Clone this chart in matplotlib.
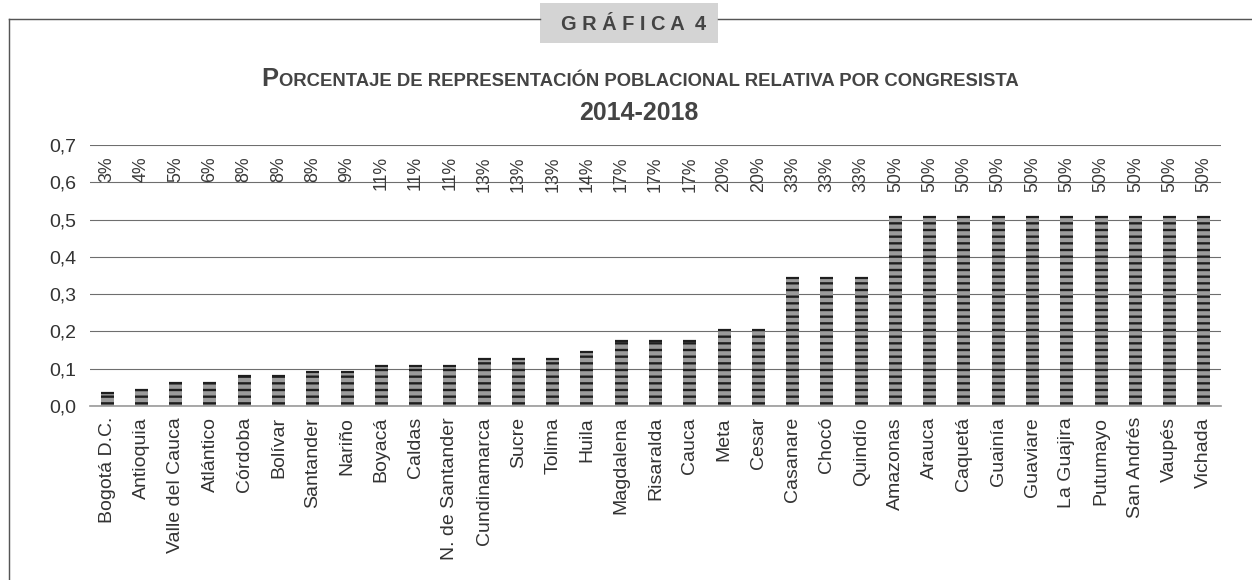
import matplotlib
matplotlib.use("Agg")
import matplotlib.pyplot as plt
import numpy as np
from matplotlib.lines import Line2D
from matplotlib.patches import Rectangle

# data
departamentos = ['Bogotá D.C.', 'Antioquia', 'Valle del Cauca', 'Atlántico', 'Córdoba',
                 'Bolívar', 'Santander', 'Nariño', 'Boyacá', 'Caldas', 'N. de Santander',
                 'Cundinamarca', 'Sucre', 'Tolima', 'Huila', 'Magdalena', 'Risaralda',
                 'Cauca', 'Meta', 'Cesar', 'Casanare', 'Chocó', 'Quindío', 'Amazonas',
                 'Arauca', 'Caquetá', 'Guainía', 'Guaviare', 'La Guajira', 'Putumayo',
                 'San Andrés', 'Vaupés', 'Vichada']
valores = [0.036, 0.044, 0.062, 0.062, 0.081, 0.081, 0.092, 0.092, 0.107, 0.107, 0.107,
           0.127, 0.127, 0.127, 0.145, 0.175, 0.175, 0.175, 0.205, 0.205, 0.344, 0.344,
           0.344, 0.507, 0.507, 0.507, 0.507, 0.507, 0.507, 0.507, 0.507, 0.507, 0.507]
porcentajes = [3, 4, 5, 6, 8, 8, 8, 9, 11, 11, 11, 13, 13, 13, 14, 17, 17, 17, 20, 20,
               33, 33, 33, 50, 50, 50, 50, 50, 50, 50, 50, 50, 50]
yticks = [0.0, 0.1, 0.2, 0.3, 0.4, 0.5, 0.6, 0.7]
ylabels = ['0,0', '0,1', '0,2', '0,3', '0,4', '0,5', '0,6', '0,7']

W, H = 1252, 580
DPI = 80
plt.rcParams['font.family'] = ['Liberation Sans', 'DejaVu Sans']
plt.rcParams['hatch.linewidth'] = 2.1

fig = plt.figure(figsize=(W / DPI, H / DPI), dpi=DPI)
ax = fig.add_axes([90 / W, 0.3, 1131 / W, 0.45])

x = np.arange(len(departamentos))
ax.set_axisbelow(True)
ax.bar(x, valores, width=0.38, color='#9b9b9b', edgecolor='#1e1e1e',
       linewidth=0, hatch='--')
# dark cap on top of each bar
ax.hlines(valores, x - 0.19, x + 0.19, color='#1e1e1e', lw=2.0)

for xi, p in zip(x, porcentajes):
    ax.text(xi, 0.67, f'{p}%', rotation=90, ha='center', va='top',
            fontsize=16, color='#3a3a3a', clip_on=False)

ax.set_xlim(-0.5, len(departamentos) - 0.5)
ax.set_ylim(0, 0.7)
ax.set_yticks(yticks)
ax.set_yticklabels(ylabels)
ax.set_xticks(x)
ax.set_xticklabels(departamentos, rotation=90)
ax.tick_params(axis='both', length=0, labelsize=17.5, labelcolor='#333333')
ax.tick_params(axis='y', pad=12)
ax.tick_params(axis='x', pad=10)
ax.grid(axis='y', color='#6e6e6e', lw=1.0)
for s in ['top', 'right', 'left']:
    ax.spines[s].set_visible(False)
ax.spines['bottom'].set_color('#999999')
ax.spines['bottom'].set_linewidth(1.5)

# outer frame and header box
def fx(px):
    return px / W

def fy(py):
    return 1 - py / H

fig.add_artist(Line2D([fx(9), fx(9)], [fy(19), 0], color='#555555', lw=1.3))
fig.add_artist(Line2D([fx(9), fx(540)], [fy(19), fy(19)], color='#555555', lw=1.3))
fig.add_artist(Line2D([fx(718), 1], [fy(19), fy(19)], color='#555555', lw=1.3))
fig.add_artist(Rectangle((fx(540), fy(43.3)), fx(718) - fx(540), fy(2.7) - fy(43.3),
                         transform=fig.transFigure, facecolor='#d4d4d4', edgecolor='none'))
fig.text(fx(634), fy(30), 'G R Á F I C A  4', ha='center', va='baseline',
         fontsize=18, fontweight='bold', color='#444444')

# small caps title
t1 = fig.text(0, fy(86), 'P', fontsize=23, fontweight='bold', color='#444444', va='baseline')
t2 = fig.text(0, fy(86), 'ORCENTAJE DE REPRESENTACIÓN POBLACIONAL RELATIVA POR CONGRESISTA',
              fontsize=16.6, fontweight='bold', color='#444444', va='baseline')
fig.canvas.draw()
r = fig.canvas.get_renderer()
w1 = t1.get_window_extent(r).width
w2 = t2.get_window_extent(r).width
x0 = 640 - (w1 + w2) / 2
t1.set_x(fx(x0))
t2.set_x(fx(x0 + w1))

fig.text(fx(639), fy(120), '2014-2018', ha='center', va='baseline',
         fontsize=22.4, fontweight='bold', color='#444444')

fig.savefig('out.png', dpi=DPI)
